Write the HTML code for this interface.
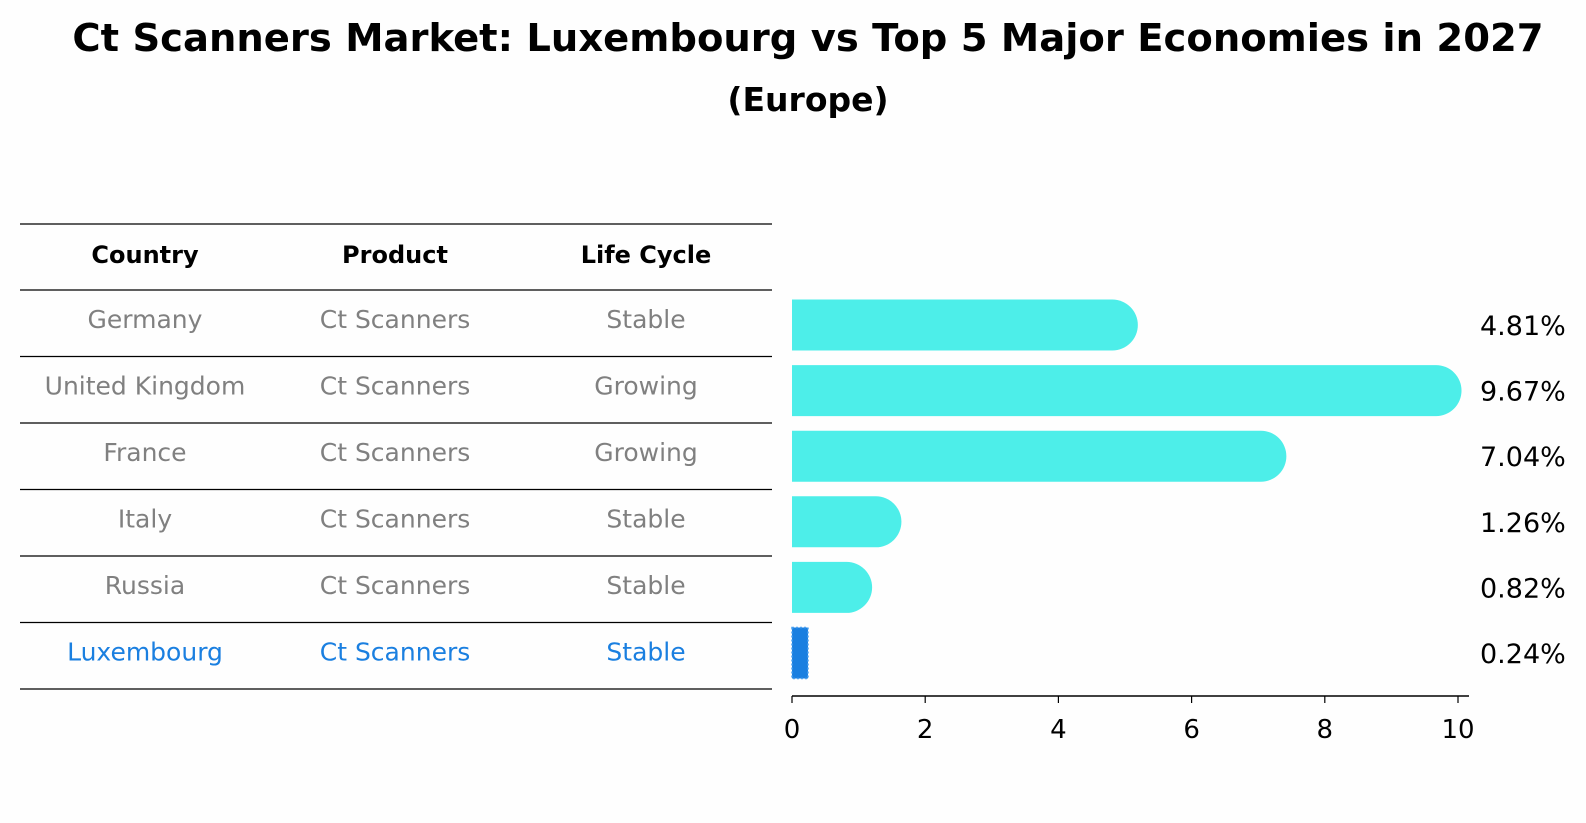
<!DOCTYPE html>
<html><head><meta charset="utf-8"><style>
body{margin:0;background:#fff;font-family:"Liberation Sans","DejaVu Sans",sans-serif}
svg{display:block}
</style></head><body>
<svg width="1586" height="823">
<rect width="1586" height="823" fill="#fefefe"/>
<text x="808" y="51" text-anchor="middle" font-size="38.5" font-weight="bold" font-family="DejaVu Sans, sans-serif">Ct Scanners Market: Luxembourg vs Top 5 Major Economies in 2027</text>
<text x="808" y="111" text-anchor="middle" font-size="33" font-weight="bold" font-family="DejaVu Sans, sans-serif">(Europe)</text>
<g id="table"></g>
<g id="bars"></g>
</svg>
<script>
const countries=["Germany","United Kingdom","France","Italy","Russia","Luxembourg"];
const products=["Ct Scanners","Ct Scanners","Ct Scanners","Ct Scanners","Ct Scanners","Ct Scanners"];
const lifeCycles=["Stable","Growing","Growing","Stable","Stable","Stable"];
const growth=[4.81,9.67,7.04,1.26,0.82,0.24];
const ticks=[0,2,4,6,8,10];
const NS="http://www.w3.org/2000/svg";
function mk(tag,attrs,parent,text){const e=document.createElementNS(NS,tag);for(const k in attrs)e.setAttribute(k,attrs[k]);if(text!==undefined)e.textContent=text;parent.appendChild(e);return e;}
const x=v=>792+v*66.6;
const rowY=i=>325+i*65.6;
const tbl=document.getElementById('table');
const lineYs=[224,290];
for(let i=0;i<countries.length;i++)lineYs.push(290+(i+1)*66.5);
lineYs.forEach((y,i)=>{const l=mk('line',{x1:20,x2:772,y1:y,y2:y,stroke:'#000','stroke-width':1.2},tbl);

});
const cols=[145,395,646];
["Country","Product","Life Cycle"].forEach((h,j)=>{const t=mk('text',{x:cols[j],y:263,'text-anchor':'middle','font-size':24,'font-weight':'bold','font-family':'DejaVu Sans, sans-serif'},tbl,h);

});
countries.forEach((c,i)=>{const cy=290+i*66.5+38;const col=i===countries.length-1?'#1a7fe0':'#808080';
[c,products[i],lifeCycles[i]].forEach((v,j)=>{const t=mk('text',{x:cols[j],y:cy,'text-anchor':'middle','font-size':25,fill:col,'font-family':'DejaVu Sans, sans-serif'},tbl,v);

});});
const g=document.getElementById('bars');
const h=51,r=25.5;
growth.forEach((v,i)=>{const cy=rowY(i);let b;
if(i===growth.length-1){b=mk('rect',{x:x(0),y:cy-h/2,width:x(v)-x(0),height:h,fill:'#1a7fe0',stroke:'#4aa0f0','stroke-dasharray':'2 2','stroke-width':1.5},g);}
else{const xe=x(v);b=mk('path',{d:`M${x(0)},${cy-h/2}H${xe}A${r},${r} 0 0 1 ${xe},${cy+h/2}H${x(0)}Z`,fill:'#4deee9'},g);}


const t=mk('text',{x:1480,y:cy+10,'font-size':27,'font-family':'DejaVu Sans, sans-serif'},g,v.toFixed(2)+'%');

});
const ax=mk('line',{x1:x(0),x2:1469,y1:696,y2:696,stroke:'#000','stroke-width':1.5},g);


ticks.forEach(tk=>{const l=mk('line',{x1:x(tk),x2:x(tk),y1:696,y2:703,stroke:'#000','stroke-width':1.2},g);


const t=mk('text',{x:x(tk),y:738,'text-anchor':'middle','font-size':26,'font-family':'DejaVu Sans, sans-serif'},g,String(tk));

});
</script>
</body></html>
